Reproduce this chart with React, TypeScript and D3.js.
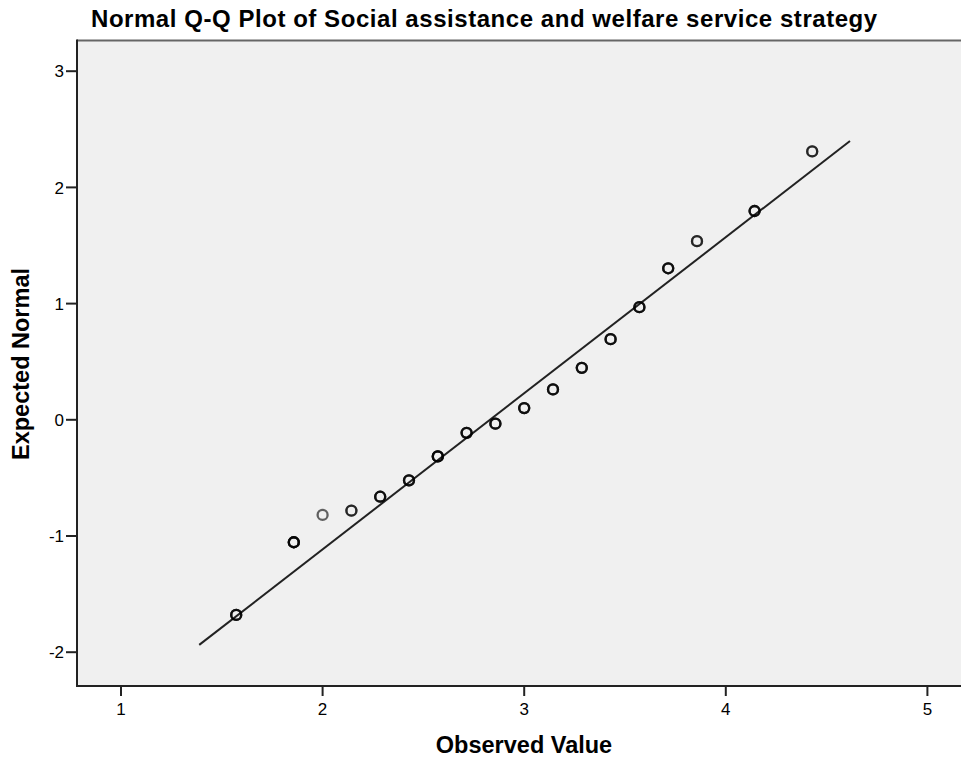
import React from "react";
import * as d3 from "d3";

const observed = [11/7, 13/7, 2, 15/7, 16/7, 17/7, 18/7, 19/7, 20/7, 3, 22/7, 23/7, 24/7, 25/7, 26/7, 27/7, 29/7, 31/7];
const expected = [-1.679, -1.054, -0.819, -0.782, -0.662, -0.521, -0.315, -0.112, -0.033, 0.101, 0.261, 0.447, 0.694, 0.969, 1.304, 1.537, 1.797, 2.31];
const freq = [3, 4, 1, 2, 3, 3, 4, 3, 3, 3, 3, 3, 3, 3, 3, 2, 3, 2];
const lineObserved = [1.388, 4.616];
const lineExpected = [-1.937, 2.399];
const xTicks = [1, 2, 3, 4, 5];
const yTicks = [-2, -1, 0, 1, 2, 3];
const title = "Normal Q-Q Plot of Social assistance and welfare service strategy";
const xTitle = "Observed Value";
const yTitle = "Expected Normal";

export default function App() {
  const W = 961, H = 758;
  const left = 77, top = 40.5, bottom = 686, right = 975;
  const x = d3.scaleLinear().domain([1, 5]).range([121, 927.4]);
  const y = d3.scaleLinear().domain([-2, 3]).range([652.2, 71.2]);
  const font = "'Liberation Sans', Arial, sans-serif";
  const line = d3.line<number>().x((d, i) => x(lineObserved[i])).y((d) => y(d));
  return (
    <svg width={W} height={H} style={{ position: "absolute", left: 0, top: 0, display: "block", background: "#fff" }}>
      <text x={91} y={27} fontFamily={font} fontWeight="bold" fontSize={24} letterSpacing={0.55} fill="#000">{title}</text>
      <rect x={left} y={top} width={right - left} height={bottom - top} fill="#F0F0F0" />
      <line x1={left} x2={right} y1={top} y2={top} stroke="#666" strokeWidth={2} />
      <path d={line(lineExpected) || ""} stroke="#222" strokeWidth={2} fill="none" />
      {observed.map((o, i) =>
        d3.range(freq[i]).map((k) => (
          <circle key={i + "-" + k} cx={x(o)} cy={y(expected[i])} r={5} fill="none" stroke="#000" strokeOpacity={0.6} strokeWidth={2.3} />
        ))
      )}
      <line x1={left} x2={left} y1={top - 1} y2={bottom} stroke="#222" strokeWidth={2} />
      <line x1={left - 1} x2={right} y1={bottom} y2={bottom} stroke="#222" strokeWidth={2} />
      {yTicks.map((t) => (
        <g key={"y" + t}>
          <line x1={left - 11} x2={left} y1={y(t)} y2={y(t)} stroke="#222" strokeWidth={2} />
          <text x={left - 13} y={y(t)} dy="0.36em" textAnchor="end" fontFamily={font} fontSize={17} fill="#000">{t}</text>
        </g>
      ))}
      {xTicks.map((t) => (
        <g key={"x" + t}>
          <line x1={x(t)} x2={x(t)} y1={bottom} y2={bottom + 10} stroke="#222" strokeWidth={2} />
          <text x={x(t)} y={715} textAnchor="middle" fontFamily={font} fontSize={17} fill="#000">{t}</text>
        </g>
      ))}
      <text x={524} y={753} textAnchor="middle" fontFamily={font} fontWeight="bold" fontSize={23.5} fill="#000">{xTitle}</text>
      <text transform={`translate(29,364) rotate(-90)`} textAnchor="middle" fontFamily={font} fontWeight="bold" fontSize={23.5} fill="#000">{yTitle}</text>
    </svg>
  );
}
